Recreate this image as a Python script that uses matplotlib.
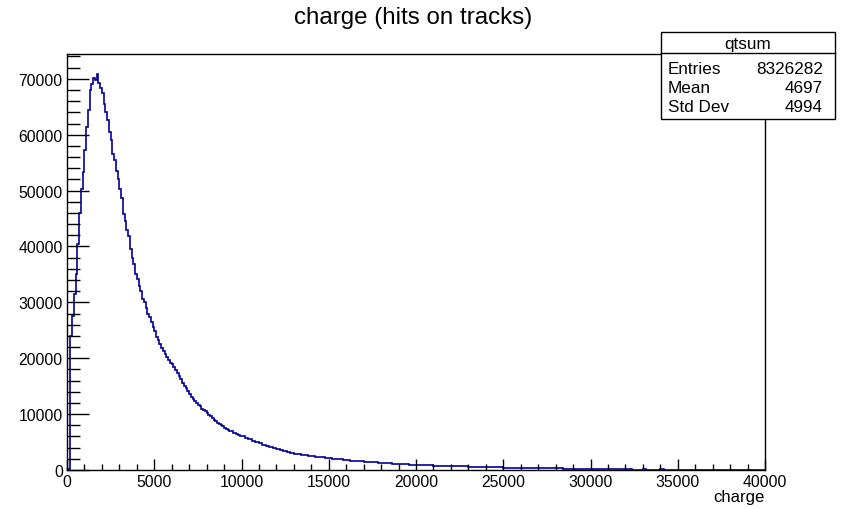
import numpy as np
import matplotlib
matplotlib.use('Agg')
import matplotlib.pyplot as plt
from matplotlib.ticker import MultipleLocator

plt.rcParams['font.family'] = ['Liberation Sans', 'DejaVu Sans']

# histogram "qtsum": heights
# fine bins (width 100) up to 10000, then width 200 up to 40000
bin_edges = np.concatenate([np.arange(0, 10000, 100), np.arange(10000, 40001, 200)])
counts_fine = [
    0, 200, 24000, 27500, 31500, 35000, 40500, 46000, 50200, 53400,
    57300, 61400, 64500, 68000, 69000, 70200, 69800, 70900, 69300, 68300,
    67500, 65500, 64000, 62700, 60500, 59100, 56500, 55500, 53500, 52000,
    50300, 48700, 45800, 44500, 43000, 41800, 39500, 38000, 36800, 35000,
    34200, 33000, 32000, 30600, 30000, 29000, 28000, 27300, 26500, 25600,
    24800, 23800, 23200, 22600, 21900, 21300, 20700, 20200, 19700, 19200,
    18900, 18400, 17900, 17400, 16800, 16200, 15600, 15100, 14600, 14100,
    13600, 13100, 12700, 12300, 12000, 11700, 11400, 11000, 10800, 10500,
    10200, 9900, 9600, 9300, 9000, 8800, 8500, 8200, 8000, 7800,
    7600, 7400, 7200, 7000, 6900, 6700, 6600, 6400, 6300, 6100,
]
counts_tail = [
    6000, 5800, 5500, 5200, 5000, 4750, 4500, 4300, 4100, 3900,
    3700, 3550, 3400, 3250, 3100, 2950, 2850, 2750, 2650, 2550,
    2450, 2350, 2300, 2250, 2150, 2100, 2000, 1950, 1900, 1800,
    1750, 1700, 1650, 1600, 1550, 1500, 1450, 1400, 1350, 1300,
    1250, 1200, 1180, 1150, 1100, 1080, 1050, 1000, 980, 950,
    920, 900, 880, 850, 820, 800, 780, 760, 740, 720,
    700, 690, 680, 660, 640, 620, 600, 580, 560, 540,
    520, 500, 480, 460, 450, 440, 420, 410, 400, 390,
    380, 370, 360, 350, 340, 330, 320, 310, 300, 290,
    280, 270, 260, 250, 240, 230, 220, 210, 200, 195,
    190, 185, 180, 170, 160, 150, 140, 130, 120, 110,
    100, 90, 80, 60, 40, 150, 20, 10, 10, 10,
    250, 0, 0, 0, 0, 0, 0, 0, 0, 0,
    0, 0, 0, 0, 0, 0, 0, 0, 0, 0,
    0, 0, 0, 0, 0, 0, 0, 0, 0, 0,
]
counts = counts_fine + counts_tail

stats_name = 'qtsum'
stats_labels = ['Entries', 'Mean', 'Std Dev']
stats_values = ['8326282', '4697', '4994']

fig = plt.figure(figsize=(8.44, 5.10), dpi=100)
ax = fig.add_axes([67 / 844, 39 / 510, 698 / 844, 416 / 510])

ax.stairs(counts, bin_edges, color='#000099', linewidth=1.2)

ax.set_xlim(0, 40000)
ax.set_ylim(0, 1.05 * max(counts))

ax.xaxis.set_major_locator(MultipleLocator(5000))
ax.xaxis.set_minor_locator(MultipleLocator(1000))
ax.yaxis.set_major_locator(MultipleLocator(10000))
ax.yaxis.set_minor_locator(MultipleLocator(2000))
ax.tick_params(axis='x', which='major', direction='in', length=8, width=1, pad=3, labelsize=11.3)
ax.tick_params(axis='x', which='minor', direction='in', length=4, width=1)
ax.tick_params(axis='y', which='major', direction='in', length=16, width=1, pad=3, labelsize=11.3)
ax.tick_params(axis='y', which='minor', direction='in', length=9, width=1)
for s in ax.spines.values():
    s.set_linewidth(1)

ax.set_xlabel('charge', fontsize=12, loc='right', labelpad=0)

fig.text(0.49, 0.964, 'charge (hits on tracks)', ha='center', va='center', fontsize=17.4)

# stats box
bx0, bx1 = 661 / 844, 835 / 844
by_top, by_mid, by_bot = 1 - 33 / 510, 1 - 54 / 510, 1 - 120 / 510
fig.patches.append(plt.Rectangle((bx0, by_bot), bx1 - bx0, by_top - by_bot,
                                 transform=fig.transFigure, facecolor='white',
                                 edgecolor='black', linewidth=1, zorder=5))
fig.lines.append(plt.Line2D([bx0, bx1], [by_mid, by_mid], transform=fig.transFigure,
                            color='black', linewidth=1, zorder=6))
fig.text((bx0 + bx1) / 2, 1 - 44 / 510, stats_name, ha='center', va='center',
         fontsize=12.3, zorder=7)
for i, (lab, val) in enumerate(zip(stats_labels, stats_values)):
    yy = 1 - (69 + 19.5 * i) / 510
    fig.text(668 / 844, yy, lab, ha='left', va='center', fontsize=12.3, zorder=7)
    fig.text(823 / 844, yy, val, ha='right', va='center', fontsize=12.3, zorder=7)

fig.savefig('out.png', dpi=100)
